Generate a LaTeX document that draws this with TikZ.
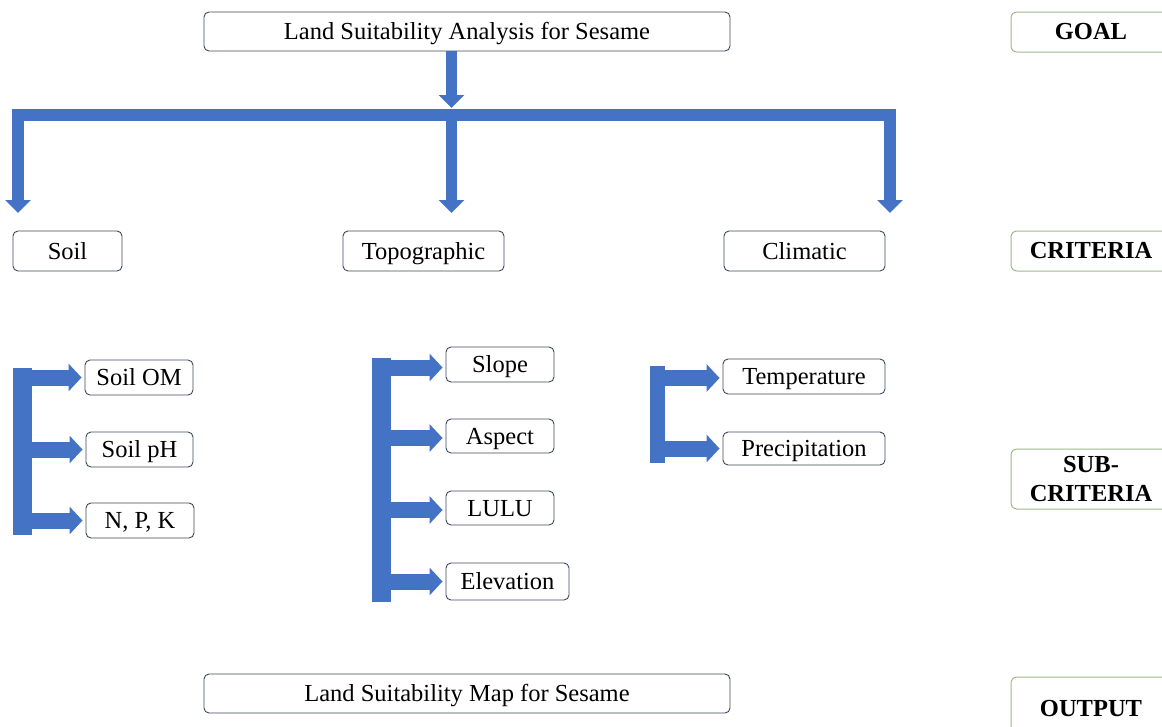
\documentclass[tikz,border=0pt]{standalone}
\usepackage{fontspec}
\setmainfont{Liberation Serif}
\usetikzlibrary{arrows.meta,calc}
\definecolor{arrblue}{RGB}{68,114,196}
\definecolor{boxline}{RGB}{62,72,92}
\definecolor{lvline}{RGB}{160,185,140}
\tikzset{
  box/.style={draw=boxline, rounded corners=5pt, fill=white, line width=0.9pt, inner sep=0pt,
    text height=18pt, text depth=2pt, font=\fontsize{24.5}{26}\selectfont},
  lvbox/.style={draw=lvline, rounded corners=6pt, fill=white, line width=1pt, inner sep=0pt,
    minimum width=160pt, align=center, font=\fontsize{24.5}{29}\selectfont\bfseries},
  toparr/.style={draw=arrblue, line width=11pt, line join=miter, line cap=butt},
  toptip/.style={-{Triangle[width=25pt,length=13pt]}},
  subarr/.style={draw=arrblue, line width=16pt, line cap=butt, -{Triangle[width=27pt,length=13pt]}, shorten >=3pt},
  subbar/.style={draw=arrblue, line cap=butt}
}
\begin{document}
\begin{tikzpicture}[x=1pt,y=-1pt]
\useasboundingbox (0,0) rectangle (1162,726);
% main nodes
\node[box, minimum width=526pt, minimum height=39pt] (goal) at (467,31.5) {Land Suitability Analysis for Sesame};
\node[box, minimum width=109pt, minimum height=40pt] (soil) at (67.5,251) {Soil};
\node[box, minimum width=161pt, minimum height=40pt] (topo) at (423.5,251) {Topographic};
\node[box, minimum width=161pt, minimum height=40pt] (clim) at (804.5,251) {Climatic};
\node[box, minimum width=108pt, minimum height=35pt] (som) at (139,377.5) {Soil OM};
\node[box, minimum width=107pt, minimum height=35pt] (sph) at (139.5,449.5) {Soil pH};
\node[box, minimum width=108pt, minimum height=35pt] (npk) at (140,520.5) {N, P, K};
\node[box, minimum width=108pt, minimum height=35pt] (slope) at (500,364.5) {Slope};
\node[box, minimum width=108pt, minimum height=34pt] (aspect) at (500,436) {Aspect};
\node[box, minimum width=108pt, minimum height=34pt] (lulu) at (500,508) {LULU};
\node[box, minimum width=123pt, minimum height=37pt] (elev) at (507.5,581.5) {Elevation};
\node[box, minimum width=162pt, minimum height=35pt] (temp) at (804,376.5) {Temperature};
\node[box, minimum width=162pt, minimum height=33pt] (prec) at (804,448.5) {Precipitation};
\node[box, minimum width=526pt, minimum height=39pt] (out) at (467,693.5) {Land Suitability Map for Sesame};
% level labels
\node[lvbox, minimum height=40pt] (lgoal) at (1091,32) {GOAL};
\node[lvbox, minimum height=40pt] (lcrit) at (1091,251) {CRITERIA};
\node[lvbox, minimum height=60pt] (lsub) at (1091,479) {SUB-\\CRITERIA};
\node[lvbox, minimum height=62pt] (lout) at (1091,708) {OUTPUT};
% top connectors
\coordinate (hub) at (451.5,114.5);
\coordinate (barL) at (18,114.5);
\coordinate (barR) at (890,114.5);
\coordinate (tL) at (18,213);
\coordinate (tM) at (451.5,213);
\coordinate (tR) at (890,213);
\draw[toparr, toptip] (goal.south -| hub) -- ($(hub)+(0,-6.5)$);
\draw[toparr, line width=12pt, {Triangle[width=25pt,length=13pt]}-{Triangle[width=25pt,length=13pt]}] (tL) -- (barL) -- (barR) -- (tR);
\draw[toparr, toptip] (hub) -- (tM);
% soil sub-criteria
\coordinate (sbT) at (22.5,368);
\coordinate (sbB) at (22.5,535);
\draw[subbar, line width=19pt] (sbT) -- (sbB);
\draw[subarr] (som.west -| sbT) -- (som.west);
\draw[subarr] (sph.west -| sbT) -- (sph.west);
\draw[subarr] (npk.west -| sbT) -- (npk.west);
% topographic sub-criteria
\coordinate (tbT) at (381.5,358);
\coordinate (tbB) at (381.5,602);
\draw[subbar, line width=19pt] (tbT) -- (tbB);
\draw[subarr] ($(slope.west -| tbT)+(0,3)$) -- ($(slope.west)+(0,3)$);
\draw[subarr] ($(aspect.west -| tbT)+(0,2)$) -- ($(aspect.west)+(0,2)$);
\draw[subarr] ($(lulu.west -| tbT)+(0,2)$) -- ($(lulu.west)+(0,2)$);
\draw[subarr] (elev.west -| tbT) -- (elev.west);
% climatic sub-criteria
\coordinate (cbT) at (657,366);
\coordinate (cbB) at (657,463);
\draw[subbar, line width=15pt] (cbT) -- (cbB);
\draw[subarr] ($(temp.west -| cbT)+(0,1.5)$) -- ($(temp.west)+(0,1.5)$);
\draw[subarr] (prec.west -| cbT) -- (prec.west);
\end{tikzpicture}
\end{document}
